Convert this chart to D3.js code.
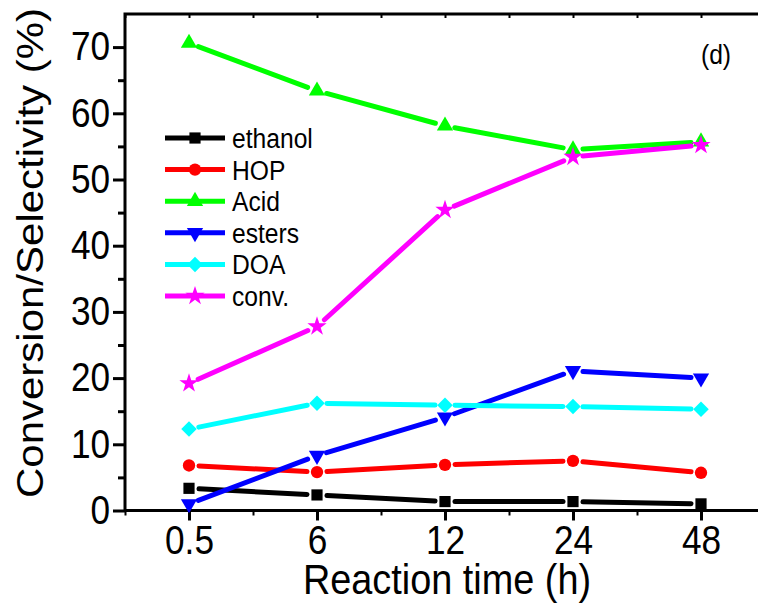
<!DOCTYPE html>
<html>
<head>
<style>
  body { margin: 0; background: #fff; }
  svg { display: block; }
  text { font-family: "Liberation Sans", Arial, sans-serif; fill: #000; }
</style>
<script src="https://cdn.jsdelivr.net/npm/d3@7"></script>
</head>
<body>
<script>
// data
var times = ["0.5", "6", "12", "24", "48"];
var ethanol = [3.35, 2.35, 1.35, 1.35, 1.0];
var hop     = [6.8, 5.8, 6.9, 7.5, 5.7];
var acid    = [70.6, 63.4, 58.1, 54.5, 55.7];
var esters  = [1.0, 8.3, 14.1, 21.1, 20.0];
var doa     = [12.3, 16.2, 15.9, 15.7, 15.3];
var conv    = [19.2, 27.8, 45.4, 53.4, 55.2];
var yTicks  = [0, 10, 20, 30, 40, 50, 60, 70];

var series = [
  {name: "ethanol", values: ethanol, color: "#000000", shape: "square"},
  {name: "HOP",     values: hop,     color: "#ff0000", shape: "circle"},
  {name: "Acid",    values: acid,    color: "#00ff00", shape: "triUp"},
  {name: "esters",  values: esters,  color: "#0000ff", shape: "triDown"},
  {name: "DOA",     values: doa,     color: "#00ffff", shape: "diamond"},
  {name: "conv.",   values: conv,    color: "#ff00ff", shape: "star"}
];

var W = 758, H = 605;
var pLeft = 125, pRight = 765, pTop = 14, pBottom = 510.5;
var SQ = 0.88; // the figure's text is a bit narrow

var svg = d3.select("body").append("svg")
    .attr("width", W)
    .attr("height", H);

var x = d3.scaleLinear().domain([-0.5, 4.5]).range([pLeft, pRight]);
var y = d3.scaleLinear().domain([0, 75]).range([pBottom, pTop]);

function symbolPath(shape) {
  if (shape == "square") return d3.symbol(d3.symbolSquare, 125)();
  if (shape == "circle") return d3.symbol(d3.symbolCircle, 120)();
  if (shape == "triUp" || shape == "triDown") return d3.symbol(d3.symbolTriangle, 115)();
  if (shape == "diamond") return d3.symbol(d3.symbolSquare, 120)();
  return d3.symbol(d3.symbolStar, 115)();
}
function symbolRot(shape) {
  if (shape == "triDown") return " rotate(180)";
  if (shape == "diamond") return " rotate(45)";
  return "";
}

// axes
var gx = svg.append("g")
    .attr("transform", "translate(0," + pBottom + ")")
    .call(d3.axisBottom(x).tickValues(d3.range(times.length))
      .tickFormat(function(i) { return times[i]; })
      .tickSizeInner(10).tickSizeOuter(0).tickPadding(5));
gx.select(".domain").remove();
gx.selectAll(".tick line").attr("stroke-width", 3);
gx.selectAll(".tick text").attr("font-size", 40).attr("transform", "scale(" + SQ + ",1)");

svg.append("g")
    .attr("transform", "translate(0," + pBottom + ")")
    .call(d3.axisBottom(x).tickValues(d3.range(-0.5, 4.6, 1))
      .tickFormat("").tickSizeInner(5).tickSizeOuter(0))
    .call(function(g) { g.select(".domain").remove(); g.selectAll("line").attr("stroke-width", 2); });

// top axis ticks (inward)
svg.append("g")
    .attr("transform", "translate(0," + pTop + ")")
    .call(d3.axisBottom(x).tickValues(d3.range(-0.5, 4.6, 0.5))
      .tickFormat("").tickSizeInner(4).tickSizeOuter(0))
    .call(function(g) { g.select(".domain").remove(); g.selectAll("line").attr("stroke-width", 2); });

var gy = svg.append("g")
    .attr("transform", "translate(" + pLeft + ",0)")
    .call(d3.axisLeft(y).tickValues(yTicks)
      .tickSizeInner(12).tickSizeOuter(0).tickPadding(5));
gy.select(".domain").remove();
gy.selectAll(".tick line").attr("stroke-width", 3);
gy.selectAll(".tick text").attr("font-size", 40).attr("transform", "scale(" + SQ + ",1)");

svg.append("g")
    .attr("transform", "translate(" + pLeft + ",0)")
    .call(d3.axisLeft(y).tickValues(d3.range(5, 75, 10))
      .tickFormat("").tickSizeInner(7).tickSizeOuter(0))
    .call(function(g) { g.select(".domain").remove(); g.selectAll("line").attr("stroke-width", 3); });

// frame
svg.append("path")
    .attr("d", "M" + pLeft + "," + pBottom + "V" + pTop + "H" + pRight + "M" + pLeft + "," + pBottom + "H" + pRight)
    .attr("fill", "none")
    .attr("stroke", "#000")
    .attr("stroke-width", 3);

// series
var line = d3.line();
series.forEach(function(s) {
  var pts = s.values.map(function(v, i) { return [x(i), y(v)]; });
  var g = svg.append("g");
  var gap = 10;
  for (var i = 0; i < pts.length - 1; i++) {
    var a = pts[i], b = pts[i + 1];
    var dx = b[0] - a[0], dy = b[1] - a[1];
    var len = Math.sqrt(dx * dx + dy * dy);
    var ux = dx / len, uy = dy / len;
    g.append("path")
      .attr("d", line([[a[0] + ux * gap, a[1] + uy * gap], [b[0] - ux * gap, b[1] - uy * gap]]))
      .attr("fill", "none")
      .attr("stroke", s.color)
      .attr("stroke-width", 5)
      .attr("stroke-linecap", "round");
  }
  g.selectAll(".mk").data(pts).enter().append("path")
    .attr("class", "mk")
    .attr("d", symbolPath(s.shape))
    .attr("transform", function(d) { return "translate(" + d[0] + "," + d[1] + ")" + symbolRot(s.shape); })
    .attr("fill", s.color);
});

// legend
var lg = svg.append("g");
series.forEach(function(s, i) {
  var ly = 138 + i * 31.6;
  lg.append("line")
    .attr("x1", 165).attr("x2", 225)
    .attr("y1", ly).attr("y2", ly)
    .attr("stroke", s.color).attr("stroke-width", 5);
  lg.append("path")
    .attr("d", symbolPath(s.shape))
    .attr("transform", "translate(195," + ly + ")" + symbolRot(s.shape))
    .attr("fill", s.color);
  lg.append("text")
    .attr("transform", "translate(232," + (ly + 10) + ") scale(" + SQ + ",1)")
    .attr("font-size", 28)
    .text(s.name);
});

// labels
svg.append("text")
    .attr("transform", "translate(716,64) scale(" + SQ + ",1)")
    .attr("text-anchor", "middle")
    .attr("font-size", 28)
    .text("(d)");

svg.append("text")
    .attr("transform", "translate(447,594) scale(" + SQ + ",1)")
    .attr("text-anchor", "middle")
    .attr("font-size", 43)
    .text("Reaction time (h)");

svg.append("text")
    .attr("transform", "translate(43,253) rotate(-90) scale(1," + SQ + ")")
    .attr("text-anchor", "middle")
    .attr("font-size", 42)
    .text("Conversion/Selectivity (%)");
</script>
</body>
</html>
